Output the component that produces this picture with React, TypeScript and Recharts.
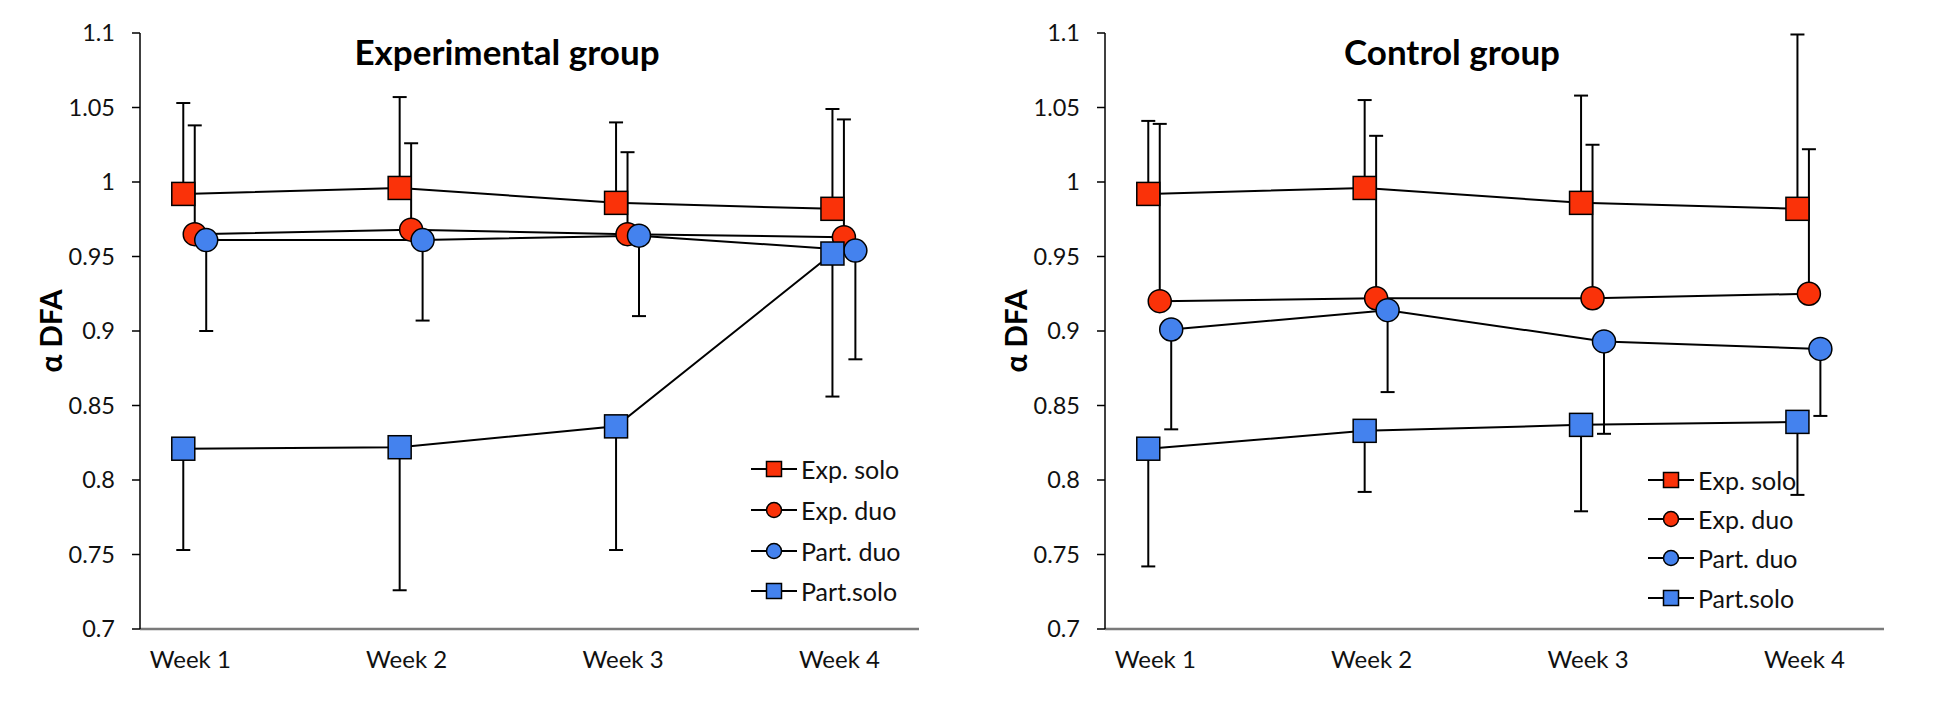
import React from 'react';
import { LineChart, Line, XAxis, YAxis, ErrorBar, Legend } from 'recharts';

const weeks = [1, 2, 3, 4];
const weekLabels = ['Week 1', 'Week 2', 'Week 3', 'Week 4'];
const yTicks = [0.7, 0.75, 0.8, 0.85, 0.9, 0.95, 1, 1.05, 1.1];

// Experimental group: means and SD (one-sided bars)
const expExpSolo = [0.992, 0.996, 0.986, 0.982];
const expExpSoloSd = [0.061, 0.061, 0.054, 0.067];
const expExpDuo = [0.965, 0.968, 0.965, 0.963];
const expExpDuoSd = [0.073, 0.058, 0.055, 0.079];
const expPartDuo = [0.961, 0.961, 0.964, 0.954];
const expPartDuoSd = [0.061, 0.054, 0.054, 0.073];
const expPartSolo = [0.821, 0.822, 0.836, 0.952];
const expPartSoloSd = [0.068, 0.096, 0.083, 0.096];

// Control group
const ctlExpSolo = [0.992, 0.996, 0.986, 0.982];
const ctlExpSoloSd = [0.049, 0.059, 0.072, 0.117];
const ctlExpDuo = [0.92, 0.922, 0.922, 0.925];
const ctlExpDuoSd = [0.119, 0.109, 0.103, 0.097];
const ctlPartDuo = [0.901, 0.914, 0.893, 0.888];
const ctlPartDuoSd = [0.067, 0.055, 0.062, 0.045];
const ctlPartSolo = [0.821, 0.833, 0.837, 0.839];
const ctlPartSoloSd = [0.079, 0.041, 0.058, 0.049];

const RED = '#FA3209';
const BLUE = '#4482EE';
const FONT = 'Lato, "Open Sans", sans-serif';

// series look: name, colour, marker, x nudge (in weeks), error bar side
const seriesStyle = [
  { name: 'Exp. solo', color: RED, shape: 'square', nudge: 0, side: 'up' },
  { name: 'Exp. duo', color: RED, shape: 'circle', nudge: 0.053, side: 'up' },
  { name: 'Part. duo', color: BLUE, shape: 'circle', nudge: 0.106, side: 'down' },
  { name: 'Part.solo', color: BLUE, shape: 'square', nudge: 0, side: 'down' },
];

const buildRows = (values, sds, nudge, side) =>
  values.map((v, i) => ({
    x: weeks[i] + nudge,
    y: v,
    err: side === 'up' ? [0, sds[i]] : [sds[i], 0],
  }));

const makeDot = (shape, color) => (props) => {
  const { cx, cy, index } = props;
  if (cx == null || cy == null) return null;
  if (shape === 'square') {
    return (
      <rect key={index} x={cx - 11.5} y={cy - 11.5} width={23} height={23}
        fill={color} stroke="#000" strokeWidth={1.5} />
    );
  }
  return <circle key={index} cx={cx} cy={cy} r={11.5} fill={color} stroke="#000" strokeWidth={1.5} />;
};

const WeekTick = ({ x, y, payload }) => (
  <text x={x + 7} y={y + 39} textAnchor="middle" fontSize={24} fill="#111" fontFamily={FONT}>
    {weekLabels[weeks.indexOf(payload.value)]}
  </text>
);

const AxisTitle = ({ viewBox }) => {
  const cx = viewBox.x - 30;
  const cy = viewBox.y + viewBox.height / 2;
  return (
    <text x={cx} y={cy} transform={`rotate(-90 ${cx} ${cy})`} textAnchor="middle"
      dominantBaseline="central" fontSize={29.5} fontWeight={700} fill="#000" fontFamily={FONT}>
      α DFA
    </text>
  );
};

const LegendIcon = ({ shape, color }) => (
  <svg width={46} height={18} style={{ display: 'block' }}>
    <line x1={0} y1={9} x2={46} y2={9} stroke="#000" strokeWidth={2} />
    {shape === 'square' ? (
      <rect x={15.5} y={1.5} width={15} height={15} fill={color} stroke="#000" strokeWidth={1.5} />
    ) : (
      <circle cx={23} cy={9} r={7.5} fill={color} stroke="#000" strokeWidth={1.5} />
    )}
  </svg>
);

const makeLegend = (rowHeight) => () => (
  <div style={{ fontFamily: FONT }}>
    {seriesStyle.map((s) => (
      <div key={s.name} style={{ display: 'flex', alignItems: 'center', height: rowHeight }}>
        <LegendIcon shape={s.shape} color={s.color} />
        <span style={{ marginLeft: 4, fontSize: 25, color: '#111', whiteSpace: 'nowrap' }}>{s.name}</span>
      </div>
    ))}
  </div>
);

function Panel({ title, titleX, left, right, legendLeft, legendTop, legendRow, values, sds }) {
  const series = seriesStyle.map((s, k) => ({ ...s, data: buildRows(values[k], sds[k], s.nudge, s.side) }));
  return (
    <div style={{ position: 'relative', width: 971, height: 702 }}>
      <LineChart width={971} height={702} margin={{ top: 33, right, bottom: 33, left }}>
        <XAxis type="number" dataKey="x" domain={[0.8, 4.4]} ticks={weeks} allowDataOverflow
          tick={<WeekTick />} tickLine={false} tickSize={0} tickMargin={0} height={40}
          axisLine={{ stroke: '#7a7a7a', strokeWidth: 2.5 }} />
        <YAxis type="number" domain={[0.7, 1.1]} ticks={yTicks} interval={0} width={60}
          tickFormatter={(v) => String(v)} tickSize={8} tickMargin={17}
          tick={{ fontSize: 23.5, fill: '#111', fontFamily: FONT }}
          axisLine={{ stroke: '#000', strokeWidth: 1.5 }} tickLine={{ stroke: '#000', strokeWidth: 1.5 }}
          label={<AxisTitle />} />
        {series.map((s) => (
          <Line key={s.name} name={s.name} data={s.data} dataKey="y" type="linear"
            stroke="#000" strokeWidth={2} isAnimationActive={false}
            dot={makeDot(s.shape, s.color)} activeDot={false}>
            <ErrorBar dataKey="err" direction="y" width={7} strokeWidth={2} stroke="#000" />
          </Line>
        ))}
        <Legend layout="horizontal" verticalAlign="middle" align="center"
          wrapperStyle={{ left: legendLeft, top: legendTop, width: 220 }}
          content={makeLegend(legendRow)} />
      </LineChart>
      <svg width={971} height={100} style={{ position: 'absolute', left: 0, top: 0, pointerEvents: 'none' }}>
        <text x={titleX} y={65} textAnchor="middle" fontSize={35} fontWeight={700} fill="#000" fontFamily={FONT}>
          {title}
        </text>
      </svg>
    </div>
  );
}

export default function App() {
  return (
    <div style={{ position: 'absolute', left: 0, top: 0, width: 1942, height: 702, display: 'flex', background: '#fff' }}>
      <Panel title="Experimental group" titleX={507} left={80} right={52}
        legendLeft={751} legendTop={449} legendRow={40.7}
        values={[expExpSolo, expExpDuo, expPartDuo, expPartSolo]}
        sds={[expExpSoloSd, expExpDuoSd, expPartDuoSd, expPartSoloSd]} />
      <Panel title="Control group" titleX={481} left={74} right={58}
        legendLeft={677} legendTop={460} legendRow={39.3}
        values={[ctlExpSolo, ctlExpDuo, ctlPartDuo, ctlPartSolo]}
        sds={[ctlExpSoloSd, ctlExpDuoSd, ctlPartDuoSd, ctlPartSoloSd]} />
    </div>
  );
}
